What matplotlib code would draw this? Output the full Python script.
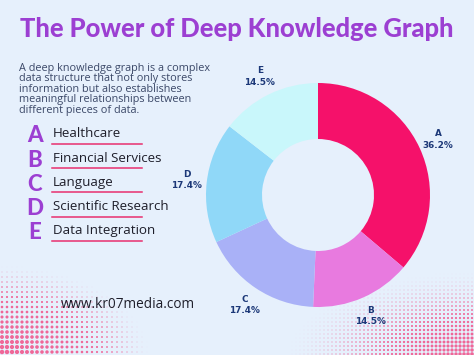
import numpy as np
import matplotlib
matplotlib.use("Agg")
import matplotlib.pyplot as plt

# data
codes = ["A", "B", "C", "D", "E"]
sectors = ["Healthcare", "Financial Services", "Language", "Scientific Research", "Data Integration"]
shares = [36.2, 14.5, 17.4, 17.4, 14.5]
colors = ["#F5116A", "#E87ADF", "#A9B1F7", "#90D8F8", "#C9F7FB"]

title = "The Power of Deep Knowledge Graph"
blurb = ("A deep knowledge graph is a complex\n"
         "data structure that not only stores\n"
         "information but also establishes\n"
         "meaningful relationships between\n"
         "different pieces of data.")
site = "www.kr07media.com"

bg = "#E6F0FC"
purple = "#9C3FD2"
navy = "#1C3878"

W, H = 474, 355
fig = plt.figure(figsize=(W / 100, H / 100), dpi=100, facecolor=bg)

# halftone decoration in the corners
deco = fig.add_axes([0, 0, 1, 1], zorder=0)
deco.set_xlim(0, W)
deco.set_ylim(H, 0)
deco.axis("off")
gx, gy = np.meshgrid(np.arange(2, 160, 5.0), np.arange(262, 356, 5.0))
d = np.hypot(gx / 150.0, (H - gy) / 90.0)
s = np.clip(1 - d, 0, 1) ** 1.5 * 11
deco.scatter(gx.ravel(), gy.ravel(), s=s.ravel(), color="#F2457F", lw=0, alpha=0.8)
gx2, gy2 = np.meshgrid(np.arange(280, 476, 4.0), np.arange(270, 356, 4.0))
d2 = np.hypot((W - gx2) / 190.0, (H - gy2) / 85.0)
s2 = np.clip(1 - d2, 0, 1) ** 1.8 * 7
deco.scatter(gx2.ravel(), gy2.ravel(), s=s2.ravel(), color="#F2457F", lw=0, alpha=0.8)

fig.text(237 / W, 1 - 29 / H, title, ha="center", va="center", fontsize=18.4,
         fontweight="black", family="Lato", color=purple)
fig.text(19 / W, 1 - 63 / H, blurb, ha="left", va="top", fontsize=7.8,
         family="Open Sans", color="#3B4868", linespacing=0.93)

# legend-like list
for i, (c, name) in enumerate(zip(codes, sectors)):
    y = 136 + i * 24.2
    fig.text(35 / W, 1 - y / H, c, ha="center", va="center", fontsize=16,
             fontweight="black", family="Lato", color=purple)
    fig.text(53 / W, 1 - (y - 2) / H, name, ha="left", va="center", fontsize=9.6,
             family="Open Sans", color="#1E1E2A")
    deco.plot([52, 142], [y + 8, y + 8], color="#E8306E", lw=1.1)

fig.text(128 / W, 1 - 304 / H, site, ha="center", va="center", fontsize=9.8,
         family="Open Sans", color="#1E1E2A")

# donut
cx, cy, r = 318, 195, 112
half = 150
ax = fig.add_axes([(cx - half) / W, (H - cy - half) / H, 2 * half / W, 2 * half / H], zorder=1)
wedges, _ = ax.pie(shares, colors=colors, startangle=90, counterclock=False,
                   wedgeprops=dict(width=0.5, edgecolor="none"))
ax.set_xlim(-half / r, half / r)
ax.set_ylim(-half / r, half / r)
ax.set_aspect("equal")
ax.axis("off")
for w, c, v in zip(wedges, codes, shares):
    a = np.deg2rad((w.theta1 + w.theta2) / 2)
    ax.text(1.18 * np.cos(a), 1.18 * np.sin(a), f"{c}\n{v}%", ha="center", va="center",
            fontsize=6.4, fontweight="bold", color=navy, linespacing=1.35)

fig.savefig("out.png", dpi=100, facecolor=bg)
